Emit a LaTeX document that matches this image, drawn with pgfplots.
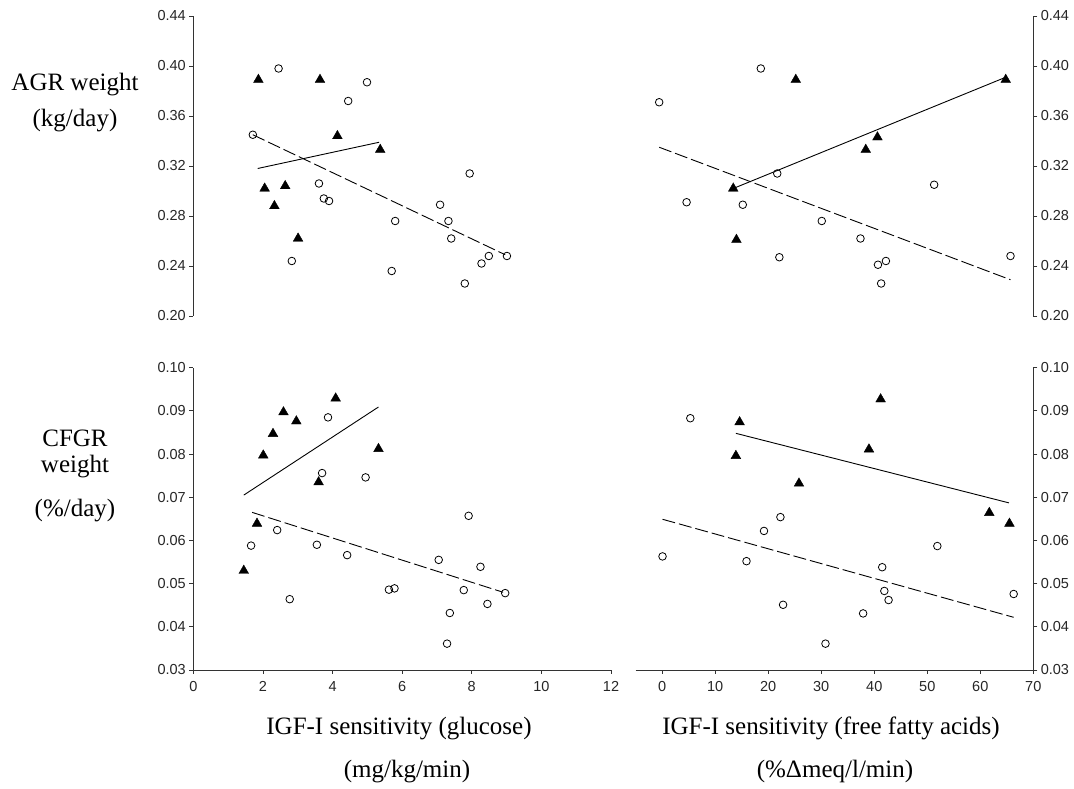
\documentclass[border=0pt]{standalone}
\usepackage{fontspec}
\setmainfont{Liberation Serif}
\setsansfont{Liberation Sans}
\usepackage{pgfplots}
\pgfplotsset{compat=1.18}

\pgfplotsset{
 panel/.style={
  scale only axis, clip=false,
  axis line style={-, black!80, line width=0.8pt},
  tick style={black!80, line width=0.8pt},
  tick align=outside,
  major tick length=4pt,
  tick label style={font=\sffamily\fontsize{14.5}{16}\selectfont, text=black!85},
  /pgf/number format/assume math mode=true,
  yticklabel style={/pgf/number format/fixed, /pgf/number format/fixed zerofill, /pgf/number format/precision=2},
  xticklabel style={/pgf/number format/fixed, yshift=-4pt},
 },
 tri/.style={only marks, mark=triangle*, mark size=5.6pt, mark options={fill=black, draw=black, line width=0.4pt}},
 circ/.style={only marks, mark=o, mark size=3.8pt, mark options={draw=black, line width=0.8pt}},
 fit/.style={no marks, black, line width=0.9pt},
 dfit/.style={no marks, black, line width=0.9pt, dash pattern=on 13pt off 4pt},
}

\begin{document}
\begin{tikzpicture}
\path[use as bounding box] (0pt,0pt) rectangle (1074pt,789pt);

% ---------------- top left ----------------
\begin{axis}[panel, at={(193.3pt,473pt)}, anchor=south west,
  width=417.7pt, height=300pt,
  xmin=0, xmax=12, ymin=0.20, ymax=0.44,
  axis x line=none, axis y line*=left,
  ytick={0.20,0.24,0.28,0.32,0.36,0.40,0.44}]
\addplot[tri] coordinates {(1.87,0.389) (3.64,0.389) (4.14,0.344) (5.37,0.333) (2.05,0.302) (2.64,0.304) (2.33,0.288) (3.01,0.262)};
\addplot[circ] coordinates {(2.45,0.398) (4.99,0.387) (4.45,0.372) (1.71,0.345) (7.94,0.314) (3.61,0.306) (3.75,0.294) (3.90,0.292) (7.09,0.289) (5.80,0.276) (7.33,0.276) (7.41,0.262) (2.83,0.244) (5.70,0.236) (8.28,0.242) (8.49,0.248) (9.01,0.248) (7.80,0.226)};
\addplot[fit] coordinates {(1.85,0.318) (5.34,0.339)};
\addplot[dfit] coordinates {(1.71,0.345) (8.96,0.249)};
\end{axis}

% ---------------- top right ----------------
\begin{axis}[panel, at={(635.7pt,473pt)}, anchor=south west,
  width=397.6pt, height=300pt,
  xmin=-5, xmax=70, ymin=0.20, ymax=0.44,
  axis x line=none, axis y line*=right,
  ytick={0.20,0.24,0.28,0.32,0.36,0.40,0.44}]
\addplot[tri] coordinates {(25.2,0.389) (64.8,0.389) (40.6,0.343) (38.4,0.333) (13.4,0.302) (14.0,0.261)};
\addplot[circ] coordinates {(-0.57,0.371) (18.6,0.398) (21.7,0.314) (51.3,0.305) (4.6,0.291) (15.2,0.289) (30.1,0.276) (37.4,0.262) (22.1,0.247) (40.7,0.241) (42.2,0.244) (41.3,0.226) (65.7,0.248)};
\addplot[fit] coordinates {(13.4,0.302) (64.8,0.391)};
\addplot[dfit] coordinates {(-0.57,0.335) (65.7,0.229)};
\end{axis}

% ---------------- bottom left ----------------
\begin{axis}[panel, at={(193.3pt,119pt)}, anchor=south west,
  width=417.7pt, height=302.3pt,
  xmin=0, xmax=12, ymin=0.03, ymax=0.10,
  axis x line*=bottom, axis y line*=left,
  xtick={0,2,4,6,8,10,12},
  ytick={0.03,0.04,0.05,0.06,0.07,0.08,0.09,0.10}]
\addplot[tri] coordinates {(4.09,0.0929) (2.59,0.0897) (2.96,0.0876) (2.29,0.0847) (2.01,0.0797) (5.32,0.0812) (3.60,0.0735) (1.83,0.0639) (1.45,0.0530)};
\addplot[circ] coordinates {(3.87,0.0885) (3.70,0.0756) (4.95,0.0746) (7.91,0.0657) (2.41,0.0624) (1.66,0.0588) (3.55,0.0590) (4.42,0.0566) (7.05,0.0555) (8.25,0.0539) (5.62,0.0486) (5.78,0.0489) (7.77,0.0485) (8.96,0.0478) (8.45,0.0453) (2.77,0.0464) (7.37,0.0432) (7.29,0.0361)};
\addplot[fit] coordinates {(1.45,0.0705) (5.32,0.0909)};
\addplot[dfit] coordinates {(1.69,0.0665) (8.90,0.0480)};
\end{axis}

% ---------------- bottom right ----------------
\begin{axis}[panel, at={(635.7pt,119pt)}, anchor=south west,
  width=397.6pt, height=302.3pt,
  xmin=-5, xmax=70, ymin=0.03, ymax=0.10,
  axis x line*=bottom, axis y line*=right,
  xtick={0,10,20,30,40,50,60,70},
  ytick={0.03,0.04,0.05,0.06,0.07,0.08,0.09,0.10}]
\addplot[tri] coordinates {(41.2,0.0927) (14.6,0.0874) (39.0,0.0811) (13.9,0.0796) (25.8,0.0732) (61.7,0.0664) (65.5,0.0639)};
\addplot[circ] coordinates {(5.3,0.0883) (22.3,0.0654) (19.2,0.0622) (51.9,0.0587) (0.06,0.0563) (15.9,0.0552) (41.5,0.0538) (41.9,0.0483) (42.7,0.0462) (66.3,0.0476) (22.8,0.0451) (37.9,0.0431) (30.8,0.0361)};
\addplot[fit] coordinates {(13.9,0.0848) (65.4,0.0687)};
\addplot[dfit] coordinates {(0.06,0.0649) (66.3,0.0422)};
\end{axis}

% ---------------- labels ----------------
\begin{scope}[every node/.style={anchor=base, font=\fontsize{25}{25}\selectfont, inner sep=0pt}]
\node at (75pt,698.3pt) {AGR weight};
\node at (75pt,662.3pt) {(kg/day)};
\node at (75pt,342.3pt) {CFGR};
\node at (75pt,316pt) {weight};
\node at (75pt,272.3pt) {(\%/day)};
\node at (399pt,54pt) {IGF-I sensitivity (glucose)};
\node at (407pt,11pt) {(mg/kg/min)};
\node at (831pt,54pt) {IGF-I sensitivity (free fatty acids)};
\node at (835pt,11pt) {(\%Δmeq/l/min)};
\end{scope}
\end{tikzpicture}
\end{document}
